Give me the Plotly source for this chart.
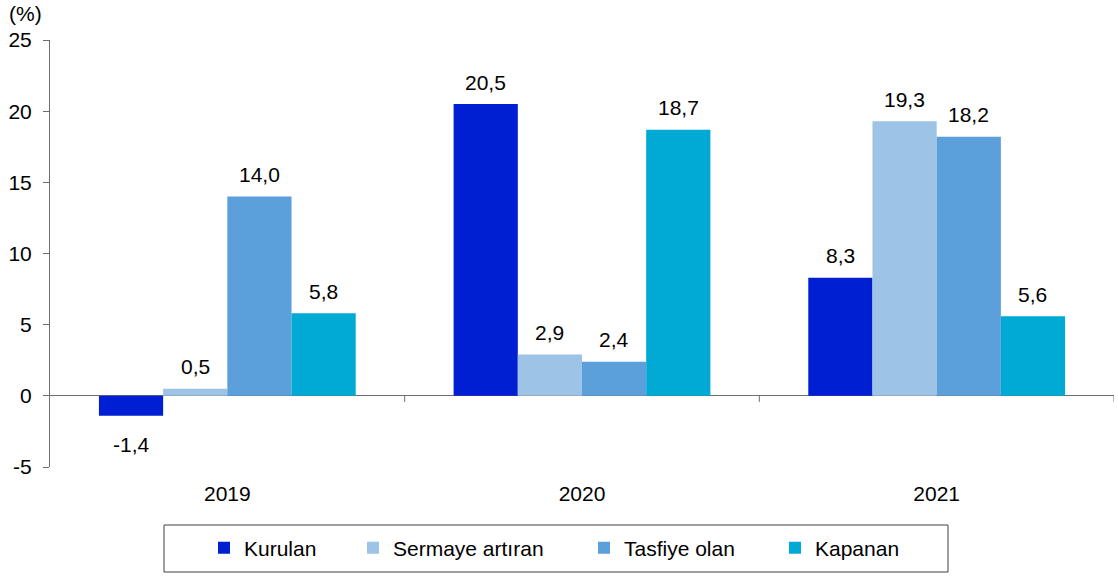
import plotly.graph_objects as go

categories = ["2019", "2020", "2021"]
series_names = ["Kurulan", "Sermaye artıran", "Tasfiye olan", "Kapanan"]
kurulan = [-1.4, 20.5, 8.3]
sermaye = [0.5, 2.9, 19.3]
tasfiye = [14.0, 2.4, 18.2]
kapanan = [5.8, 18.7, 5.6]
y_ticks = [-5, 0, 5, 10, 15, 20, 25]

series_values = [kurulan, sermaye, tasfiye, kapanan]
colors = ["#001ED2", "#9DC3E6", "#5BA0DB", "#00AAD4"]

FONT = "Liberation Sans, Arial, sans-serif"
FS = 21

W, H = 1118, 576
L, R, T, B = 50, 4, 40, 109
pw, ph = W - L - R, H - T - B

bargap = 0.276
n = len(series_names)
bw = (1 - bargap) / n
xs = list(range(len(categories)))

fig = go.Figure()
legend_text_px = [240, 389, 620, 811]  # legend text start positions in reference
for j, (name, vals, col) in enumerate(zip(series_names, series_values, colors)):
    lg = "legend" if j == 0 else f"legend{j+1}"
    fig.add_trace(go.Bar(
        x=xs, y=vals, name=name, marker=dict(color=col, line=dict(width=0)),
        legend=lg, hoverinfo="skip",
    ))

annotations = []
for j, vals in enumerate(series_values):
    for i, v in enumerate(vals):
        xo = i - (1 - bargap) / 2 + bw * (j + 0.5)
        annotations.append(dict(
            x=xo, y=v, xref="x", yref="y",
            text=f"{v:.1f}".replace(".", ","), showarrow=False,
            yanchor="middle", yshift=22 if v >= 0 else -29,
            font=dict(family=FONT, size=FS, color="black"),
        ))
annotations.append(dict(
    x=(7 - L) / pw, y=1 + (T - 0) / ph, xref="paper", yref="paper",
    text="(%)", showarrow=False, xanchor="left", yanchor="top",
    font=dict(family=FONT, size=FS, color="black"),
))

shapes = []
for k in [0.5, 1.5, 2.5]:
    shapes.append(dict(type="line", xref="x", yref="y", x0=k, x1=k,
                       y0=0, y1=-6, ysizemode="pixel", yanchor=0,
                       line=dict(color="#6e6e6e", width=1)))
# legend frame
shapes.append(dict(type="rect", xref="paper", yref="paper",
                   x0=(164 - L) / pw, x1=(948 - L) / pw,
                   y0=-(525 - (H - B)) / ph, y1=-(572 - (H - B)) / ph,
                   line=dict(color="#404040", width=1), fillcolor="rgba(0,0,0,0)"))

legend_layout = {}
for j, px in enumerate(legend_text_px):
    key = "legend" if j == 0 else f"legend{j+1}"
    legend_layout[key] = dict(
        x=(px - 36 - L) / pw, xanchor="left",
        y=-(548 - (H - B)) / ph, yanchor="middle",
        orientation="h", font=dict(family=FONT, size=FS, color="black"),
        bgcolor="rgba(0,0,0,0)", borderwidth=0,
    )

fig.update_layout(
    width=W, height=H,
    margin=dict(l=L, r=R, t=T, b=B, autoexpand=False),
    barmode="group", bargap=bargap, bargroupgap=0,
    plot_bgcolor="white", paper_bgcolor="white",
    font=dict(family=FONT, size=FS, color="black"),
    xaxis=dict(range=[-0.5, 2.5], tickmode="array", tickvals=xs, ticktext=categories,
               showline=False, showgrid=False, zeroline=False, ticks="",
               ticklabelstandoff=12, tickfont=dict(family=FONT, size=FS, color="black")),
    yaxis=dict(range=[-5, 25], tickmode="array", tickvals=y_ticks,
               ticktext=[str(v) for v in y_ticks],
               showline=True, linecolor="#6e6e6e", linewidth=1,
               ticks="outside", ticklen=6, tickcolor="#6e6e6e",
               showgrid=False, zeroline=True, zerolinecolor="#6e6e6e", zerolinewidth=1,
               ticklabelstandoff=7, tickfont=dict(family=FONT, size=FS, color="black")),
    annotations=annotations, shapes=shapes,
    showlegend=True,
    **legend_layout,
)

fig.write_html("out.html", config={"displayModeBar": False},
               post_script="document.body.style.margin='0';document.body.style.padding='0';")
